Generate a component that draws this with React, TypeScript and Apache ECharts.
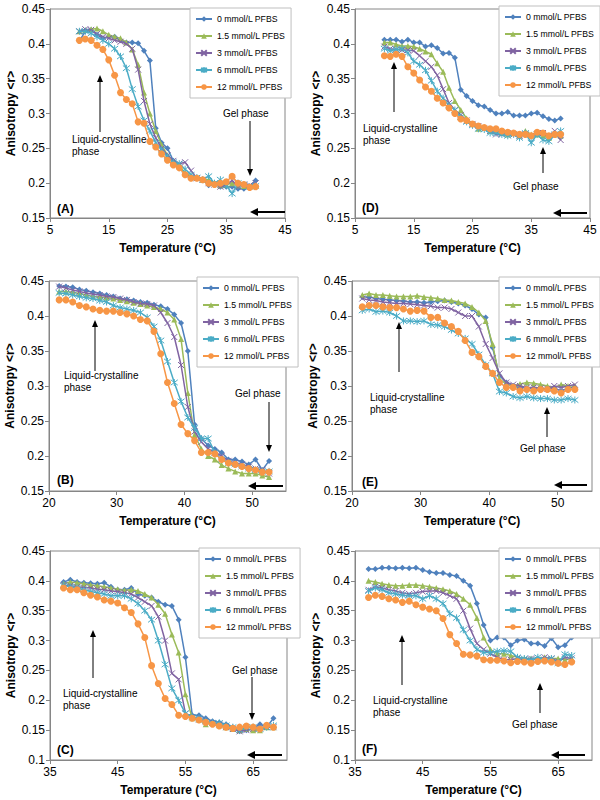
import React, { useEffect, useRef } from 'react';
import * as echarts from 'echarts';

const NAMES = ['0 mmol/L PFBS', '1.5 mmol/L PFBS', '3 mmol/L PFBS', '6 mmol/L PFBS', '12 mmol/L PFBS'];
const COLORS = ['#4F81BD', '#9BBB59', '#8064A2', '#4BACC6', '#F79646'];

// Temperatures (°C)
const T_AD = [10, 11, 12, 13, 14, 15, 16, 17, 18, 19, 20, 21, 22, 23, 24, 25, 26, 27, 28, 29, 30, 31, 32, 33, 34, 35, 36, 37, 38, 39, 40];
const T_BE = [21.5, 22.5, 23.5, 24.5, 25.5, 26.5, 27.5, 28.5, 29.5, 30.5, 31.5, 32.5, 33.5, 34.5, 35.5, 36.5, 37.5, 38.5, 39.5, 40.5, 41.5, 42.5, 43.5, 44.5, 45.5, 46.5, 47.5, 48.5, 49.5, 50.5, 51.5, 52.5];
const T_C = [37, 38, 39, 40, 41, 42, 43, 44, 45, 46, 47, 48, 49, 50, 51, 52, 53, 54, 55, 56, 57, 58, 59, 60, 61, 62, 63, 64, 65, 66, 67, 68];
const T_F = [37, 38, 39, 40, 41, 42, 43, 44, 45, 46, 47, 48, 49, 50, 51, 52, 53, 54, 55, 56, 57, 58, 59, 60, 61, 62, 63, 64, 65, 66, 67];

// Panel A
const A0 = [0.404, 0.418, 0.420, 0.413, 0.408, 0.410, 0.410, 0.405, 0.402, 0.402, 0.401, 0.390, 0.376, 0.279, 0.258, 0.250, 0.232, 0.225, 0.212, 0.210, 0.207, 0.205, 0.197, 0.200, 0.195, 0.195, 0.195, 0.192, 0.192, 0.195, 0.204];
const A15 = [0.418, 0.420, 0.421, 0.422, 0.418, 0.413, 0.410, 0.408, 0.402, 0.392, 0.370, 0.330, 0.300, 0.275, 0.255, 0.240, 0.230, 0.225, 0.215, 0.210, 0.208, 0.205, 0.205, 0.200, 0.197, 0.198, 0.200, 0.197, 0.196, 0.195, 0.197];
const A3 = [0.418, 0.421, 0.420, 0.414, 0.410, 0.408, 0.405, 0.403, 0.400, 0.393, 0.363, 0.318, 0.285, 0.265, 0.250, 0.240, 0.232, 0.228, 0.230, 0.218, 0.207, 0.205, 0.200, 0.198, 0.195, 0.197, 0.204, 0.195, 0.198, 0.197, 0.200];
const A6 = [0.418, 0.418, 0.415, 0.410, 0.405, 0.400, 0.393, 0.382, 0.365, 0.335, 0.310, 0.290, 0.275, 0.258, 0.248, 0.238, 0.230, 0.228, 0.220, 0.212, 0.208, 0.205, 0.210, 0.200, 0.205, 0.197, 0.185, 0.200, 0.198, 0.195, 0.196];
const A12 = [0.405, 0.407, 0.405, 0.398, 0.392, 0.377, 0.355, 0.330, 0.320, 0.314, 0.288, 0.286, 0.260, 0.252, 0.242, 0.233, 0.226, 0.222, 0.212, 0.207, 0.207, 0.205, 0.200, 0.198, 0.200, 0.202, 0.210, 0.200, 0.198, 0.194, 0.195];

// Panel D
const D0 = [0.406, 0.406, 0.406, 0.403, 0.406, 0.402, 0.402, 0.396, 0.398, 0.394, 0.386, 0.387, 0.380, 0.334, 0.325, 0.318, 0.312, 0.310, 0.305, 0.300, 0.300, 0.302, 0.297, 0.297, 0.297, 0.300, 0.301, 0.296, 0.292, 0.290, 0.293];
const D15 = [0.402, 0.402, 0.399, 0.397, 0.397, 0.396, 0.393, 0.389, 0.385, 0.372, 0.360, 0.337, 0.318, 0.305, 0.293, 0.285, 0.278, 0.280, 0.275, 0.275, 0.272, 0.270, 0.272, 0.268, 0.275, 0.270, 0.270, 0.268, 0.265, 0.270, 0.268];
const D3 = [0.396, 0.393, 0.392, 0.391, 0.391, 0.390, 0.383, 0.375, 0.367, 0.355, 0.335, 0.315, 0.305, 0.298, 0.290, 0.285, 0.282, 0.278, 0.275, 0.270, 0.270, 0.272, 0.270, 0.268, 0.270, 0.268, 0.270, 0.272, 0.268, 0.275, 0.262];
const D6 = [0.393, 0.390, 0.392, 0.393, 0.387, 0.375, 0.370, 0.362, 0.347, 0.332, 0.322, 0.312, 0.305, 0.295, 0.288, 0.283, 0.278, 0.277, 0.272, 0.272, 0.270, 0.268, 0.270, 0.265, 0.272, 0.258, 0.270, 0.262, 0.260, 0.270, 0.275];
const D12 = [0.383, 0.382, 0.385, 0.382, 0.367, 0.358, 0.348, 0.338, 0.332, 0.322, 0.315, 0.308, 0.300, 0.292, 0.290, 0.285, 0.282, 0.280, 0.278, 0.278, 0.275, 0.273, 0.272, 0.270, 0.270, 0.268, 0.273, 0.272, 0.268, 0.270, 0.270];

// Panel B
const B0 = [0.443, 0.442, 0.441, 0.438, 0.436, 0.434, 0.432, 0.430, 0.428, 0.425, 0.424, 0.422, 0.420, 0.419, 0.416, 0.414, 0.410, 0.402, 0.390, 0.350, 0.245, 0.225, 0.215, 0.210, 0.205, 0.195, 0.195, 0.192, 0.188, 0.195, 0.180, 0.193];
const B15 = [0.435, 0.435, 0.434, 0.432, 0.430, 0.428, 0.427, 0.426, 0.425, 0.423, 0.421, 0.419, 0.417, 0.415, 0.413, 0.410, 0.405, 0.395, 0.367, 0.290, 0.230, 0.210, 0.200, 0.195, 0.187, 0.182, 0.178, 0.175, 0.175, 0.175, 0.172, 0.170];
const B3 = [0.442, 0.440, 0.437, 0.435, 0.433, 0.431, 0.430, 0.428, 0.427, 0.425, 0.423, 0.420, 0.418, 0.417, 0.415, 0.405, 0.390, 0.370, 0.330, 0.270, 0.235, 0.220, 0.210, 0.205, 0.200, 0.193, 0.190, 0.188, 0.185, 0.182, 0.180, 0.175];
const B6 = [0.433, 0.432, 0.430, 0.428, 0.426, 0.425, 0.422, 0.420, 0.415, 0.412, 0.410, 0.408, 0.405, 0.398, 0.385, 0.365, 0.335, 0.305, 0.278, 0.255, 0.240, 0.225, 0.225, 0.205, 0.195, 0.190, 0.188, 0.185, 0.182, 0.180, 0.178, 0.178];
const B12 = [0.423, 0.423, 0.420, 0.415, 0.413, 0.410, 0.408, 0.407, 0.407, 0.405, 0.403, 0.400, 0.395, 0.393, 0.378, 0.346, 0.305, 0.275, 0.245, 0.232, 0.222, 0.205, 0.205, 0.203, 0.195, 0.190, 0.188, 0.185, 0.182, 0.180, 0.177, 0.177];

// Panel E
const E0 = [0.427, 0.427, 0.425, 0.424, 0.423, 0.422, 0.421, 0.420, 0.420, 0.419, 0.420, 0.421, 0.422, 0.420, 0.418, 0.415, 0.410, 0.402, 0.398, 0.355, 0.315, 0.305, 0.300, 0.298, 0.297, 0.296, 0.295, 0.296, 0.297, 0.293, 0.297, 0.298];
const E15 = [0.430, 0.432, 0.430, 0.430, 0.429, 0.428, 0.428, 0.428, 0.429, 0.427, 0.426, 0.425, 0.423, 0.422, 0.420, 0.418, 0.413, 0.405, 0.393, 0.360, 0.310, 0.303, 0.300, 0.303, 0.305, 0.304, 0.302, 0.300, 0.298, 0.302, 0.300, 0.300];
const E3 = [0.425, 0.423, 0.422, 0.420, 0.419, 0.418, 0.418, 0.417, 0.416, 0.415, 0.414, 0.412, 0.412, 0.410, 0.405, 0.400, 0.400, 0.385, 0.360, 0.340, 0.318, 0.305, 0.302, 0.300, 0.298, 0.298, 0.297, 0.296, 0.300, 0.298, 0.300, 0.302];
const E6 = [0.408, 0.410, 0.406, 0.407, 0.405, 0.400, 0.393, 0.393, 0.392, 0.393, 0.388, 0.387, 0.385, 0.380, 0.375, 0.368, 0.360, 0.345, 0.330, 0.318, 0.292, 0.290, 0.285, 0.283, 0.285, 0.283, 0.282, 0.282, 0.280, 0.280, 0.282, 0.280];
const E12 = [0.413, 0.415, 0.415, 0.413, 0.412, 0.412, 0.410, 0.407, 0.408, 0.407, 0.398, 0.398, 0.390, 0.385, 0.378, 0.365, 0.348, 0.342, 0.328, 0.318, 0.305, 0.298, 0.298, 0.293, 0.295, 0.293, 0.295, 0.295, 0.293, 0.290, 0.295, 0.295];

// Panel C
const C0 = [0.398, 0.402, 0.398, 0.397, 0.396, 0.395, 0.397, 0.390, 0.385, 0.385, 0.388, 0.378, 0.375, 0.372, 0.365, 0.360, 0.358, 0.335, 0.272, 0.175, 0.175, 0.170, 0.165, 0.163, 0.160, 0.155, 0.148, 0.150, 0.153, 0.160, 0.155, 0.170];
const C15 = [0.395, 0.398, 0.397, 0.395, 0.393, 0.392, 0.390, 0.388, 0.386, 0.384, 0.385, 0.383, 0.378, 0.372, 0.360, 0.345, 0.310, 0.280, 0.210, 0.170, 0.168, 0.160, 0.162, 0.158, 0.155, 0.152, 0.150, 0.152, 0.150, 0.150, 0.155, 0.155];
const C3 = [0.393, 0.392, 0.390, 0.389, 0.388, 0.386, 0.385, 0.383, 0.382, 0.380, 0.378, 0.372, 0.365, 0.358, 0.340, 0.300, 0.245, 0.235, 0.178, 0.172, 0.168, 0.165, 0.162, 0.160, 0.155, 0.152, 0.148, 0.150, 0.152, 0.153, 0.155, 0.155];
const C6 = [0.392, 0.390, 0.388, 0.385, 0.382, 0.380, 0.378, 0.375, 0.375, 0.375, 0.370, 0.362, 0.350, 0.335, 0.300, 0.260, 0.220, 0.200, 0.178, 0.172, 0.170, 0.165, 0.162, 0.162, 0.158, 0.155, 0.150, 0.155, 0.155, 0.152, 0.155, 0.158];
const C12 = [0.388, 0.385, 0.385, 0.380, 0.376, 0.373, 0.368, 0.366, 0.363, 0.355, 0.347, 0.328, 0.305, 0.258, 0.228, 0.203, 0.193, 0.175, 0.173, 0.170, 0.167, 0.163, 0.160, 0.157, 0.155, 0.153, 0.155, 0.157, 0.155, 0.152, 0.158, 0.155];

// Panel F
const F0 = [0.420, 0.420, 0.422, 0.422, 0.421, 0.422, 0.421, 0.422, 0.418, 0.415, 0.413, 0.413, 0.410, 0.408, 0.400, 0.392, 0.362, 0.326, 0.300, 0.305, 0.305, 0.292, 0.300, 0.302, 0.295, 0.295, 0.291, 0.304, 0.289, 0.292, 0.305];
const F15 = [0.400, 0.398, 0.395, 0.393, 0.392, 0.392, 0.393, 0.393, 0.392, 0.390, 0.388, 0.386, 0.383, 0.378, 0.370, 0.360, 0.338, 0.305, 0.285, 0.278, 0.278, 0.275, 0.272, 0.270, 0.270, 0.270, 0.272, 0.270, 0.270, 0.268, 0.270];
const F3 = [0.385, 0.390, 0.388, 0.385, 0.383, 0.380, 0.378, 0.380, 0.382, 0.383, 0.383, 0.380, 0.375, 0.370, 0.350, 0.320, 0.295, 0.285, 0.278, 0.272, 0.268, 0.268, 0.270, 0.268, 0.270, 0.268, 0.272, 0.270, 0.265, 0.272, 0.270];
const F6 = [0.383, 0.388, 0.385, 0.380, 0.378, 0.376, 0.375, 0.375, 0.370, 0.375, 0.370, 0.362, 0.345, 0.338, 0.318, 0.300, 0.285, 0.280, 0.280, 0.282, 0.283, 0.282, 0.272, 0.270, 0.268, 0.272, 0.268, 0.270, 0.262, 0.277, 0.275];
const F12 = [0.372, 0.376, 0.374, 0.370, 0.368, 0.364, 0.366, 0.360, 0.356, 0.353, 0.350, 0.337, 0.310, 0.295, 0.277, 0.276, 0.274, 0.268, 0.267, 0.267, 0.266, 0.263, 0.265, 0.264, 0.262, 0.265, 0.266, 0.264, 0.262, 0.260, 0.264];

const FONT = '"Liberation Sans", Arial, sans-serif';
const CROSS = 'path://M0,0L10,10M10,0L0,10';
const STAR = 'path://M0,0L10,10M10,0L0,10M5,-1.5L5,11.5';
const SYMBOLS = ['diamond', 'triangle', CROSS, STAR, 'circle'];
const SYM_SIZE = [6, 6, 6, 7, 7];
const BORDER_W = [0, 0, 1, 1, 0];

const PANELS = [
  {
    label: '(A)', T: T_AD, data: [A0, A15, A3, A6, A12],
    grid: { left: 50, top: 9, width: 235, height: 209 },
    xMin: 5, xMax: 45, yMin: 0.15, yMax: 0.45, hideMax: false,
    legend: { left: 190, top: 8 },
    lc: [72, 133], up: [100, 132, 75], gel: [223, 113], gelArrow: [250, 121, 176], back: [285, 250, 212], lab: [57, 209],
  },
  {
    label: '(D)', T: T_AD, data: [D0, D15, D3, D6, D12],
    grid: { left: 355, top: 9, width: 235, height: 209 },
    xMin: 5, xMax: 45, yMin: 0.15, yMax: 0.45, hideMax: false,
    legend: { left: 499, top: 6 },
    lc: [363, 122], up: [394, 112, 62], gel: [513, 186], gelArrow: [543, 173, 147], back: [587, 553, 213], lab: [362, 208],
  },
  {
    label: '(B)', T: T_BE, data: [B0, B15, B3, B6, B12],
    grid: { left: 49, top: 281, width: 237, height: 210 },
    xMin: 20, xMax: 55, yMin: 0.15, yMax: 0.45, hideMax: true,
    legend: { left: 197, top: 277 },
    lc: [64, 369], up: [95, 371, 320], gel: [235, 393], gelArrow: [269, 402, 452], back: [283, 248, 486], lab: [57, 480],
  },
  {
    label: '(E)', T: T_BE, data: [E0, E15, E3, E6, E12],
    grid: { left: 352, top: 281, width: 240, height: 210 },
    xMin: 20, xMax: 55, yMin: 0.15, yMax: 0.45, hideMax: true,
    legend: { left: 499, top: 277 },
    lc: [370, 391], up: [399, 372, 322], gel: [520, 448], gelArrow: [547, 437, 407], back: [587, 554, 485], lab: [362, 482],
  },
  {
    label: '(C)', T: T_C, data: [C0, C15, C3, C6, C12],
    grid: { left: 50, top: 551, width: 237, height: 209 },
    xMin: 35, xMax: 70, yMin: 0.1, yMax: 0.45, hideMax: true,
    legend: { left: 199, top: 548 },
    lc: [63, 687], up: [93, 678, 630], gel: [232, 670], gelArrow: [252, 677, 720], back: [282, 247, 755], lab: [57, 750],
  },
  {
    label: '(F)', T: T_F, data: [F0, F15, F3, F6, F12],
    grid: { left: 355, top: 551, width: 237, height: 209 },
    xMin: 35, xMax: 70, yMin: 0.1, yMax: 0.45, hideMax: true,
    legend: { left: 499, top: 548 },
    lc: [373, 694], up: [402, 685, 635], gel: [512, 724], gelArrow: [540, 713, 683], back: [585, 551, 755], lab: [362, 749],
  },
];

function arrow(x1: number, y1: number, x2: number, y2: number, w: number, hl: number, hw: number) {
  const dx = x2 - x1, dy = y2 - y1;
  const len = Math.sqrt(dx * dx + dy * dy);
  const ux = dx / len, uy = dy / len;
  const bx = x2 - ux * hl, by = y2 - uy * hl;
  const px = -uy * hw, py = ux * hw;
  return [
    { type: 'line', silent: true, shape: { x1, y1, x2: bx, y2: by }, style: { stroke: '#000', lineWidth: w } },
    { type: 'polygon', silent: true, shape: { points: [[x2, y2], [bx + px, by + py], [bx - px, by - py]] }, style: { fill: '#000' } },
  ];
}

function buildOption() {
  const grid: any[] = [];
  const xAxis: any[] = [];
  const yAxis: any[] = [];
  const legend: any[] = [];
  const series: any[] = [];
  const graphic: any[] = [];
  const axisLineStyle = { color: '#868686', width: 1 };
  PANELS.forEach((p, pi) => {
    grid.push({ ...p.grid, show: true, borderColor: '#868686', borderWidth: 1, backgroundColor: 'transparent' });
    xAxis.push({
      type: 'value', gridIndex: pi, min: p.xMin, max: p.xMax, interval: 10,
      name: 'Temperature (°C)', nameLocation: 'middle', nameGap: 24,
      nameTextStyle: { fontFamily: FONT, fontSize: 12, fontWeight: 'bold', color: '#000' },
      axisLine: { show: true, onZero: false, lineStyle: axisLineStyle },
      axisTick: { show: true, inside: false, length: 4, lineStyle: axisLineStyle },
      axisLabel: { fontFamily: FONT, fontSize: 12, color: '#000', margin: 6, showMaxLabel: !p.hideMax },
      splitLine: { show: false },
    });
    yAxis.push({
      type: 'value', gridIndex: pi, min: p.yMin, max: p.yMax, interval: 0.05,
      name: 'Anisotropy <r>', nameLocation: 'middle', nameGap: 33,
      nameTextStyle: { fontFamily: FONT, fontSize: 12, fontWeight: 'bold', color: '#000' },
      axisLine: { show: true, onZero: false, lineStyle: axisLineStyle },
      axisTick: { show: true, inside: false, length: 4, lineStyle: axisLineStyle },
      axisLabel: { fontFamily: FONT, fontSize: 12, color: '#000', margin: 5 },
      splitLine: { show: false },
    });
    legend.push({
      data: NAMES, orient: 'vertical', left: p.legend.left, top: p.legend.top,
      itemWidth: 16, itemHeight: 7, itemGap: 5,
      padding: [5, 6, 5, 5], borderColor: '#BFBFBF', borderWidth: 1, backgroundColor: '#fff',
      textStyle: { fontFamily: FONT, fontSize: 8.7, color: '#000', lineHeight: 12 },
      selectedMode: false,
    });
    p.data.forEach((vals, k) => {
      series.push({
        type: 'line', name: NAMES[k], xAxisIndex: pi, yAxisIndex: pi,
        data: p.T.map((t, i) => [t, vals[i]]),
        symbol: SYMBOLS[k], symbolSize: SYM_SIZE[k], showSymbol: true,
        lineStyle: { color: COLORS[k], width: 1.5 },
        itemStyle: { color: COLORS[k], borderColor: COLORS[k], borderWidth: BORDER_W[k] },
        emphasis: { disabled: true },
        z: 2 + k,
      });
    });
    graphic.push({
      type: 'text', x: p.lc[0], y: p.lc[1], silent: true,
      style: { text: 'Liquid-crystalline\nphase', font: `10px ${FONT}`, fill: '#000', lineHeight: 12, textVerticalAlign: 'top' },
    });
    graphic.push(...arrow(p.up[0], p.up[1], p.up[0], p.up[2], 1, 7, 3));
    graphic.push({
      type: 'text', x: p.gel[0], y: p.gel[1], silent: true,
      style: { text: 'Gel phase', font: `10px ${FONT}`, fill: '#000', textVerticalAlign: 'middle' },
    });
    graphic.push(...arrow(p.gelArrow[0], p.gelArrow[1], p.gelArrow[0], p.gelArrow[2], 1, 7, 3));
    graphic.push(...arrow(p.back[0], p.back[2], p.back[1], p.back[2], 2, 8, 4));
    graphic.push({
      type: 'text', x: p.lab[0], y: p.lab[1], silent: true,
      style: { text: p.label, font: `bold 12px ${FONT}`, fill: '#000', textVerticalAlign: 'middle' },
    });
  });
  return {
    animation: false,
    backgroundColor: '#fff',
    textStyle: { fontFamily: FONT },
    grid, xAxis, yAxis, legend, series, graphic,
  };
}

export default function App() {
  const ref = useRef<HTMLDivElement>(null);
  useEffect(() => {
    const chart = echarts.init(ref.current!, null, { renderer: 'svg' });
    chart.setOption(buildOption() as any);
    return () => chart.dispose();
  }, []);
  return (
    <div
      ref={ref}
      style={{ position: 'fixed', left: 0, top: 0, width: 600, height: 800, background: '#fff' }}
    />
  );
}
